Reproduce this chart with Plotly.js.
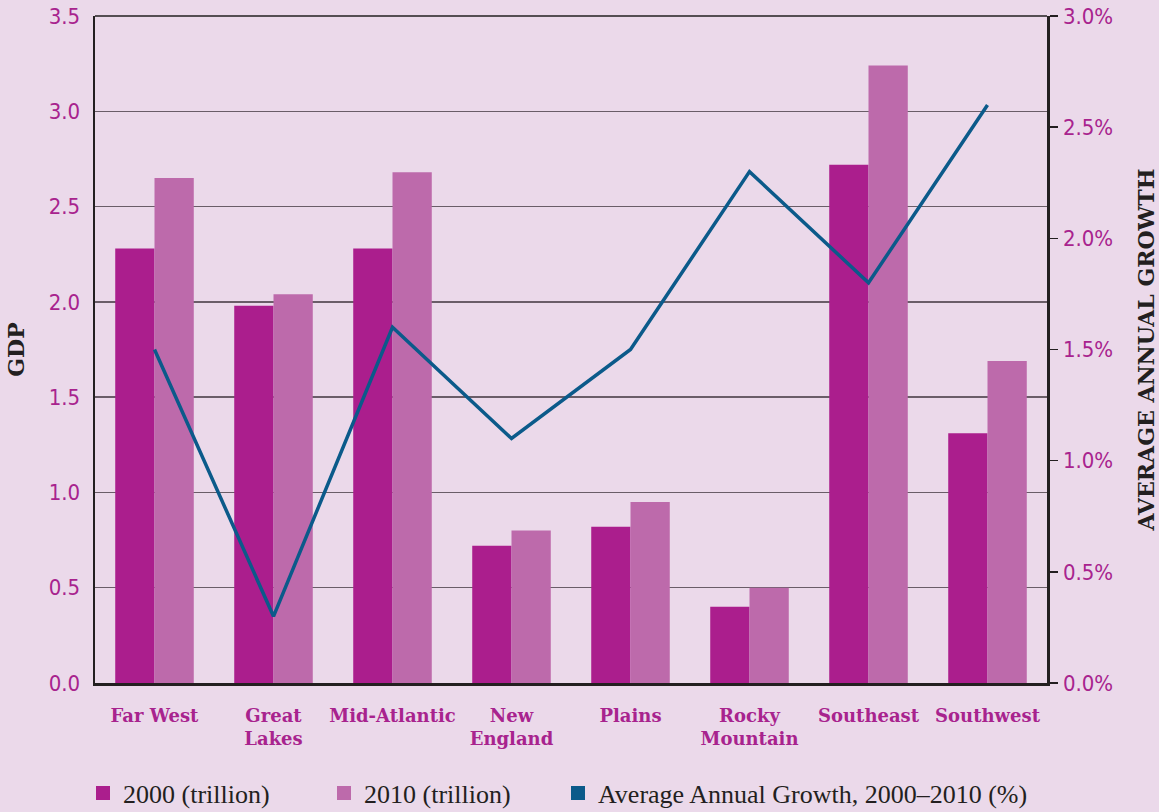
<!DOCTYPE html>
<html>
<head>
<meta charset="utf-8">
<script src="https://cdn.plot.ly/plotly-3.0.1.min.js"></script>
<style>
  html, body { margin: 0; padding: 0; background: #EBD9EA; }
  #chart { width: 1159px; height: 812px; }
</style>
</head>
<body>
<div id="chart"></div>
<script>
// Data
var regions = ["Far West", "Great<br>Lakes", "Mid-Atlantic", "New<br>England", "Plains", "Rocky<br>Mountain", "Southeast", "Southwest"];
var gdp2000 = [2.28, 1.98, 2.28, 0.72, 0.82, 0.40, 2.72, 1.31];
var gdp2010 = [2.65, 2.04, 2.68, 0.80, 0.95, 0.50, 3.24, 1.69];
var growth = [1.5, 0.3, 1.6, 1.1, 1.5, 2.3, 1.8, 2.6];
var gdpTicks = [0, 0.5, 1.0, 1.5, 2.0, 2.5, 3.0, 3.5];
var gdpTickText = ["0.0", "0.5", "1.0", "1.5", "2.0", "2.5", "3.0", "3.5"];
var growthTicks = [0, 0.5, 1.0, 1.5, 2.0, 2.5, 3.0];
var growthTickText = ["0.0%", "0.5%", "1.0%", "1.5%", "2.0%", "2.5%", "3.0%"];

var magenta = "#AB1E8D";
var pink = "#BD6AAB";
var blue = "#0B5A8A";
var ink = "#231F20";
var labelColor = "#A8238E";
var tickFont = {family: "Liberation Sans Narrow, DejaVu Sans Condensed, Roboto, sans-serif", size: 22, color: labelColor};
var legendFont = {family: "Liberation Serif, DejaVu Serif, serif", size: 26, color: ink};

var traces = [
  {type: "bar", name: "2000 (trillion)", x: regions, y: gdp2000, marker: {color: magenta}, yaxis: "y", showlegend: false},
  {type: "bar", name: "2010 (trillion)", x: regions, y: gdp2010, marker: {color: pink}, yaxis: "y", showlegend: false},
  {type: "scatter", mode: "lines", name: "Average Annual Growth, 2000–2010 (%)", x: regions, y: growth,
   line: {color: blue, width: 3.5}, yaxis: "y2", showlegend: false},
  // legend entries shown as square swatches like the reference
  {type: "scatter", mode: "markers", name: "2000 (trillion)", x: [null], y: [null],
   marker: {color: magenta, symbol: "square", size: 14}, yaxis: "y2", legend: "legend", hoverinfo: "skip"},
  {type: "scatter", mode: "markers", name: "2010 (trillion)", x: [null], y: [null],
   marker: {color: pink, symbol: "square", size: 14}, yaxis: "y2", legend: "legend2", hoverinfo: "skip"},
  {type: "scatter", mode: "markers", name: "Average Annual Growth, 2000–2010 (%)", x: [null], y: [null],
   marker: {color: blue, symbol: "square", size: 14}, yaxis: "y2", legend: "legend3", hoverinfo: "skip"}
];

function legendAt(px) {
  return {orientation: "h", x: (px - 95) / 952, xanchor: "left", xref: "paper",
          y: 19 / 812, yref: "container", yanchor: "middle",
          font: legendFont, bgcolor: "rgba(0,0,0,0)", borderwidth: 0};
}

var layout = {
  width: 1159, height: 812,
  paper_bgcolor: "#EBD9EA", plot_bgcolor: "#EBD9EA",
  margin: {l: 95, r: 112, t: 16, b: 129},
  barmode: "group", bargap: 0.34, bargroupgap: 0,
  showlegend: true,
  legend: legendAt(83),
  legend2: legendAt(324),
  legend3: legendAt(558),
  xaxis: {
    type: "category", showgrid: false, showline: true, linecolor: ink, linewidth: 3,
    ticks: "", ticklabelstandoff: 14, automargin: false,
    tickfont: {family: "DejaVu Serif, serif", size: 18, color: labelColor, weight: "bold"},
    zeroline: false, fixedrange: true
  },
  yaxis: {
    range: [0, 3.5], tickvals: gdpTicks, ticktext: gdpTickText, automargin: false,
    showgrid: true, gridcolor: "#6a5d68", gridwidth: 1.5,
    showline: true, linecolor: ink, linewidth: 2.5, ticks: "", ticklabelstandoff: 8,
    tickfont: tickFont, zeroline: false,
    title: {text: "GDP", standoff: 18, font: {family: "DejaVu Serif, serif", size: 22, color: ink, weight: "bold"}}
  },
  yaxis2: {
    overlaying: "y", side: "right", range: [0, 3], tickvals: growthTicks, ticktext: growthTickText, automargin: false,
    showgrid: false, showline: true, linecolor: ink, linewidth: 2.5,
    ticks: "outside", ticklen: 8, tickwidth: 1.5, tickcolor: ink, ticklabelstandoff: 1,
    tickfont: tickFont, zeroline: false,
    title: {text: "AVERAGE ANNUAL GROWTH", standoff: 27, font: {family: "DejaVu Serif, serif", size: 22, color: ink, weight: "bold"}}
  },
  shapes: [
    {type: "line", xref: "paper", yref: "paper", x0: 0, x1: 1, y0: 1, y1: 1, line: {color: ink, width: 1.5}}
  ]
};

Plotly.newPlot("chart", traces, layout, {displayModeBar: false, staticPlot: true});
</script>
</body>
</html>
